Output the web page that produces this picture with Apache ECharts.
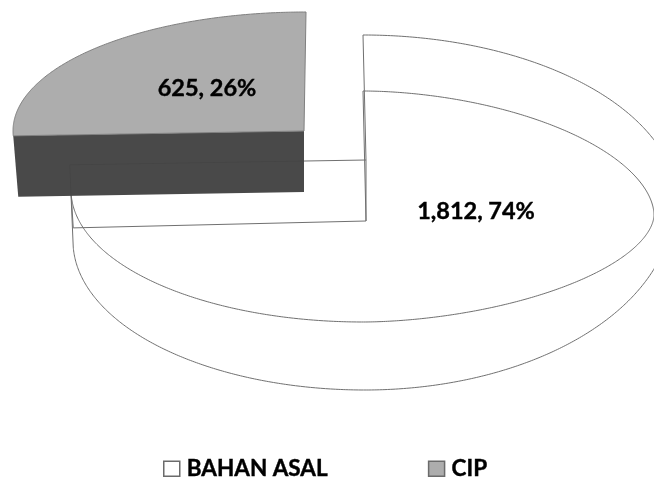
<!DOCTYPE html>
<html>
<head>
<meta charset="utf-8">
<style>html,body{margin:0;padding:0;background:#fff}#c{width:654px;height:481px}</style>
<script src="https://cdn.jsdelivr.net/npm/echarts@6/dist/echarts.min.js"></script>
</head>
<body>
<div id="c"></div>
<script>
var categories = ['BAHAN ASAL', 'CIP'];
var values = [1812, 625];
var fills = ['#ffffff', '#adadad'];
var wallFill = '#434343';
var edgeColor = '#707070';

var total = values.reduce(function (a, b) { return a + b; }, 0);
function startAngle(i) {
  var s = 0;
  for (var k = 0; k < i; k++) s += values[k];
  return s / total * 360;
}

// Projection of the tilted, perspective-distorted pie: one (super)ellipse per quadrant.
var upperRing = [
  { cx: 363, cy: 215, rx: 291, ry: 124, n: 1.85 },
  { cx: 363, cy: 215, rx: 291, ry: 107, n: 1.8 },
  { cx: 363, cy: 190, rx: 292, ry: 132 }
];
var lowerRing = [
  { cx: 363, cy: 205, rx: 315, ry: 170 },
  { cx: 365, cy: 205, rx: 308, ry: 185 },
  { cx: 365, cy: 241, rx: 292, ry: 149 }
];
var cutTop = [{ cx: 366, cy: 160, rx: 296.5, ry: 120 }];
var cutBottom = [{ cx: 366, cy: 221, rx: 293, ry: 170 }];
var cipTop = [{ cx: 306, cy: 131, rx: 293, ry: 119 }];
var cipApexTop = [304, 131];
var cipDepth = 61;
var whiteApexTop = [366, 160];
var whiteApexBottom = [366, 221];
var labelAnchors = [[476, 211], [207, 88]];

function project(ring, deg) {
  var q = ring[Math.min(ring.length - 1, Math.floor(deg / 90))];
  var t = deg * Math.PI / 180, e = 2 / (q.n || 2);
  var s = Math.sin(t), c = Math.cos(t);
  return [q.cx + q.rx * Math.sign(s) * Math.pow(Math.abs(s), e),
          q.cy - q.ry * Math.sign(c) * Math.pow(Math.abs(c), e)];
}
function arc(ring, a0, a1) {
  var pts = [], n = Math.ceil(Math.abs(a1 - a0)) * 2;
  for (var i = 0; i <= n; i++) pts.push(project(ring, a0 + (a1 - a0) * i / n));
  return pts;
}
function line(pts, z) {
  return { type: 'polyline', z2: z || 1, shape: { points: pts }, style: { stroke: edgeColor, lineWidth: 1, fill: null } };
}
function labelText(i) {
  return values[i].toLocaleString('en-US') + ', ' + Math.round(values[i] / total * 100) + '%';
}
function label(i) {
  return { type: 'text', z2: 20, style: {
    x: labelAnchors[i][0], y: labelAnchors[i][1], text: labelText(i),
    fill: '#000', stroke: '#000', lineWidth: 0.4, font: 'bold 23.5px Lato', align: 'center', verticalAlign: 'middle' } };
}

function renderWhite(params, api) {
  var a0 = startAngle(0), a1 = a0 + api.value(0) / total * 360;
  var cTop = project(cutTop, a1), cBot = project(cutBottom, a1);
  return { type: 'group', children: [
    line(arc(upperRing, a0, a1)),
    line(arc(lowerRing, a0, a1)),
    line([project(lowerRing, a0), whiteApexTop, whiteApexBottom]),
    line([project(upperRing, a0), whiteApexBottom]),
    line([whiteApexTop, cTop]),
    line([whiteApexBottom, cBot]),
    line([cTop, project(lowerRing, a1)]),
    line([project(upperRing, a1), cBot]),
    label(0)
  ] };
}
function renderCip(params, api) {
  var a0 = startAngle(1), a1 = a0 + api.value(0) / total * 360;
  var rim = arc(cipTop, a0, a1);
  var left = rim[0];
  var face = rim.concat([cipApexTop]);
  var wall = [left, cipApexTop,
    [cipApexTop[0], cipApexTop[1] + cipDepth],
    [left[0] + 5, left[1] + cipDepth]];
  return { type: 'group', children: [
    { type: 'polygon', z2: 5, shape: { points: wall }, style: { fill: wallFill, opacity: 0.97 } },
    { type: 'polygon', z2: 6, shape: { points: face }, style: { fill: fills[1], stroke: '#808080', lineWidth: 1 } },
    label(1)
  ] };
}

var chart = echarts.init(document.getElementById('c'), null, { renderer: 'canvas' });
chart.setOption({
  backgroundColor: '#fff',
  animation: false,
  legend: {
    left: 163, top: 457, padding: 0, itemWidth: 16, itemHeight: 15, itemGap: 100,
    icon: 'rect',
    textStyle: { fontFamily: 'Lato', fontWeight: 'bold', fontSize: 22.5, color: '#000', textBorderColor: '#000', textBorderWidth: 0.4, padding: [0, 0, 0, 2] },
    data: [
      { name: categories[0], itemStyle: { color: fills[0], borderColor: '#6b6b6b', borderWidth: 1.5 } },
      { name: categories[1], itemStyle: { color: fills[1], borderColor: '#6b6b6b', borderWidth: 1.5 } }
    ]
  },
  series: [
    { type: 'custom', name: categories[0], coordinateSystem: 'none', renderItem: renderWhite, data: [[values[0]]], z: 1, silent: true, itemStyle: { color: fills[0] } },
    { type: 'custom', name: categories[1], coordinateSystem: 'none', renderItem: renderCip, data: [[values[1]]], z: 2, silent: true, itemStyle: { color: fills[1] } }
  ]
});
</script>
</body>
</html>
